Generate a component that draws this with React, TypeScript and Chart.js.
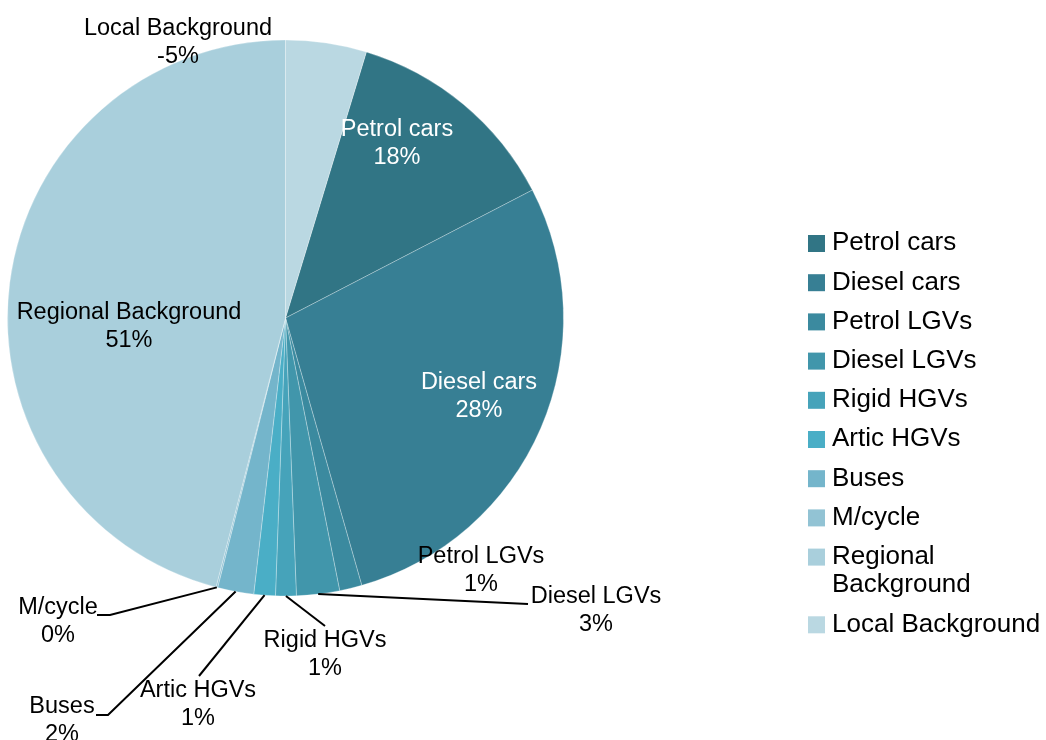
import React, { useEffect, useRef } from 'react';
import { Chart, registerables } from 'chart.js';

Chart.register(...registerables);

// ---- Data ----
const categories = [
  'Petrol cars',
  'Diesel cars',
  'Petrol LGVs',
  'Diesel LGVs',
  'Rigid HGVs',
  'Artic HGVs',
  'Buses',
  'M/cycle',
  'Regional Background',
  'Local Background',
];
// slice sizes as drawn in the reference (share of the circle)
const sliceValues = [12.7, 28.2, 1.3, 2.5, 1.2, 1.25, 2.1, 0.1, 46.0, 4.7];
// percentage labels as printed on the reference
const percentLabels = ['18%', '28%', '1%', '3%', '1%', '1%', '2%', '0%', '51%', '-5%'];
const sliceColors = [
  '#317585',
  '#377f94',
  '#3b8a9f',
  '#4196ab',
  '#46a3ba',
  '#4aaec6',
  '#74b5cb',
  '#92c3d4',
  '#a9cfdc',
  '#bad8e2',
];
const legendLines = [
  ['Petrol cars'],
  ['Diesel cars'],
  ['Petrol LGVs'],
  ['Diesel LGVs'],
  ['Rigid HGVs'],
  ['Artic HGVs'],
  ['Buses'],
  ['M/cycle'],
  ['Regional', 'Background'],
  ['Local Background'],
];

// ---- Layout (label placement relative to the pie centre, px) ----
type LabelLayout = { dx: number; dy: number; color: string; leader: number[][] | null };
const labelLayout: LabelLayout[] = [
  { dx: 111.5, dy: -176, color: '#ffffff', leader: null },
  { dx: 193.5, dy: 77, color: '#ffffff', leader: null },
  { dx: 195.5, dy: 250.5, color: '#000000', leader: null },
  { dx: 310.5, dy: 290.5, color: '#000000', leader: [[242.5, 286]] },
  { dx: 39.5, dy: 334.5, color: '#000000', leader: [[39.5, 308]] },
  { dx: -87.5, dy: 385, color: '#000000', leader: [[-86.5, 358]] },
  { dx: -223.5, dy: 401, color: '#000000', leader: [[-177.5, 397], [-189.5, 397]] },
  { dx: -227.5, dy: 301.5, color: '#000000', leader: [[-175.5, 297], [-188.5, 297]] },
  { dx: -156.5, dy: 7, color: '#000000', leader: null },
  { dx: -107.5, dy: -277, color: '#000000', leader: null },
];

const FONT_FAMILY = '"Liberation Sans", Arial, Helvetica, sans-serif';
const LABEL_SIZE = 23.5;
const LABEL_LINE = 28;
const LEGEND_SIZE = 26;
const LEGEND_BOX_X = 808;
const LEGEND_TEXT_X = 832;
const LEGEND_FIRST_Y = 241;
const LEGEND_STEP = 39.2;
const LEGEND_EXTRA_LINE = 28.5;
const LEGEND_BOX = 17;

const labelPlugin = {
  id: 'pieLabelsAndLegend',
  afterDatasetsDraw(chart: any) {
    const ctx: CanvasRenderingContext2D = chart.ctx;
    const meta = chart.getDatasetMeta(0);
    ctx.save();
    meta.data.forEach((arc: any, i: number) => {
      const p = arc.getProps(['x', 'y', 'startAngle', 'endAngle', 'outerRadius'], true);
      const cx = p.x;
      const cy = p.y;
      const lay = labelLayout[i];
      if (lay.leader) {
        const mid = (p.startAngle + p.endAngle) / 2;
        ctx.beginPath();
        ctx.moveTo(cx + p.outerRadius * Math.cos(mid), cy + p.outerRadius * Math.sin(mid));
        lay.leader.forEach(([dx, dy]) => ctx.lineTo(cx + dx, cy + dy));
        ctx.strokeStyle = '#000000';
        ctx.lineWidth = 2;
        ctx.lineJoin = 'miter';
        ctx.stroke();
      }
      ctx.font = `${LABEL_SIZE}px ${FONT_FAMILY}`;
      ctx.fillStyle = lay.color;
      ctx.textAlign = 'center';
      ctx.textBaseline = 'alphabetic';
      const lines = [categories[i], percentLabels[i]];
      const firstCenter = cy + lay.dy - ((lines.length - 1) * LABEL_LINE) / 2;
      lines.forEach((t, k) => {
        ctx.fillText(t, cx + lay.dx, firstCenter + k * LABEL_LINE + LABEL_SIZE * 0.358);
      });
    });

    // legend
    ctx.font = `${LEGEND_SIZE}px ${FONT_FAMILY}`;
    ctx.textAlign = 'left';
    ctx.textBaseline = 'alphabetic';
    let y = LEGEND_FIRST_Y;
    legendLines.forEach((lines, i) => {
      ctx.fillStyle = sliceColors[i];
      ctx.fillRect(LEGEND_BOX_X, y - 6, LEGEND_BOX, LEGEND_BOX);
      ctx.fillStyle = '#000000';
      lines.forEach((t, k) => {
        ctx.fillText(t, LEGEND_TEXT_X, y + k * LEGEND_EXTRA_LINE + LEGEND_SIZE * 0.358);
      });
      y += LEGEND_STEP + (lines.length - 1) * LEGEND_EXTRA_LINE;
    });
    ctx.restore();
  },
};

export default function App() {
  const canvasRef = useRef<HTMLCanvasElement | null>(null);

  useEffect(() => {
    if (!canvasRef.current) return;
    const total = sliceValues.reduce((a, b) => a + b, 0);
    const lastShare = sliceValues[sliceValues.length - 1] / total;
    const chart = new Chart(canvasRef.current, {
      type: 'pie',
      data: {
        labels: categories,
        datasets: [
          {
            data: sliceValues,
            backgroundColor: sliceColors,
            borderColor: 'rgba(255,255,255,0.28)',
            borderWidth: 1,
          },
        ],
      },
      options: {
        animation: false,
        responsive: true,
        maintainAspectRatio: false,
        events: [],
        rotation: lastShare * 360,
        layout: {
          padding: { left: 7, right: 482, top: 39.5, bottom: 143.5 },
        },
        plugins: {
          legend: { display: false },
          tooltip: { enabled: false },
          title: { display: false },
        },
      },
      plugins: [labelPlugin],
    });
    return () => chart.destroy();
  }, []);

  return (
    <div
      style={{
        position: 'absolute',
        left: 0,
        top: 0,
        width: '1046px',
        height: '740px',
        background: '#ffffff',
      }}
    >
      <canvas ref={canvasRef} />
    </div>
  );
}
